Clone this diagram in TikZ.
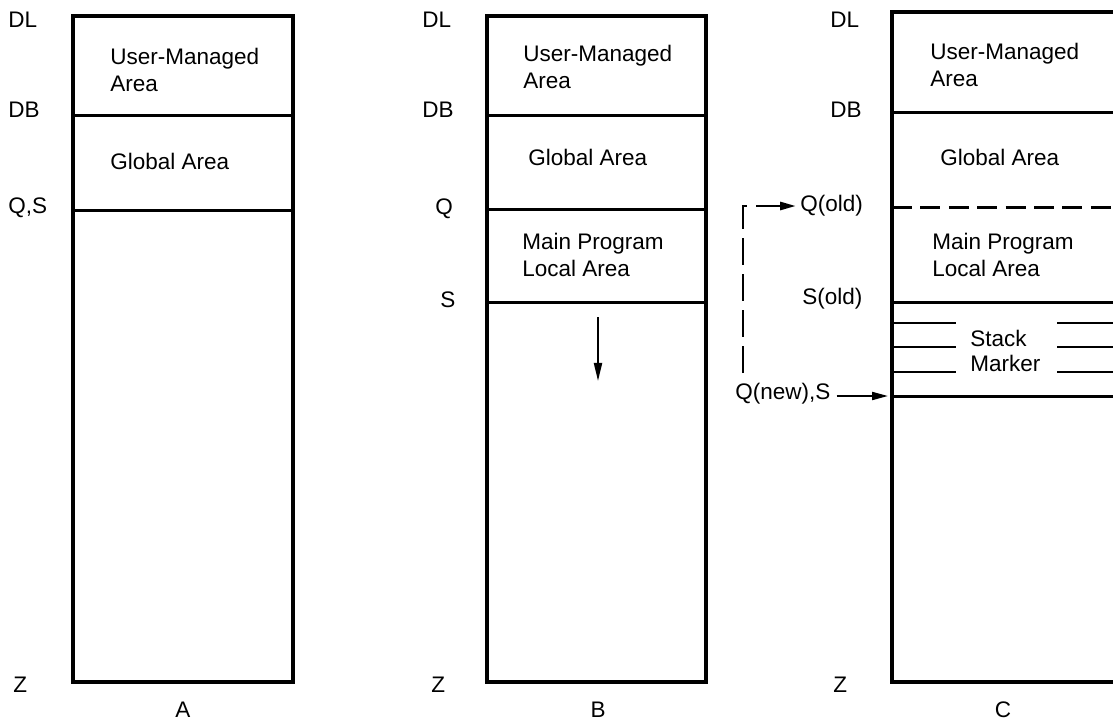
\documentclass[tikz,border=0pt]{standalone}
\usepackage{fontspec}
\setsansfont{Liberation Sans}
\usetikzlibrary{arrows.meta}
\begin{document}
\begin{tikzpicture}[x=0.025cm, y=-0.025cm,
     font=\sffamily\fontsize{16}{19}\selectfont,
     frame/.style={line width=1.1mm},
     divider/.style={line width=0.75mm},
     thin rule/.style={line width=0.5mm},
     area/.style={anchor=west, align=left, inner sep=0pt},
     tag/.style={anchor=west, inner sep=0pt},
     pointer/.style={line width=0.5mm, -{Triangle[length=4.5mm, width=2mm]}}]
\useasboundingbox (0,0) rectangle (1113,723);
% the three stacks
\foreach \col/\left/\right/\top/\mid/\dl/\zx in
    {A/73/293/16/183/8/13, B/487/706/16/598/422/431, C/892/1120/12/1003/830/833}{
    \draw[frame] (\left,\top) rectangle (\right,682);
    \node[inner sep=0pt] (cap\col) at (\mid,710) {\col};
    \node[tag] (dl\col) at (\dl,20) {DL};
    \node[tag] (db\col) at (\dl,110) {DB};
    \node[tag] (z\col) at (\zx,685) {Z};
}
% A
\draw[divider] (73,115) -- (293,115);
\draw[divider] (73,210) -- (293,210);
\node[tag] (qsA) at (8,208) {Q,S};
\node[area] (userA) at (110,70) {User-Managed\\Area};
\node[area] (globalA) at (110,161) {Global Area};
% B
\foreach \y in {115, 209, 302}
    \draw[divider] (487,\y) -- (706,\y);
\node[tag] (qB) at (435,209) {Q};
\node[tag] (sB) at (440,300) {S};
\node[area] (userB) at (523,67) {User-Managed\\Area};
\node[area] (globalB) at (528,157) {Global Area};
\node[area] (mainB) at (522,255) {Main Program\\Local Area};
\coordinate (growTop) at (598,317);
\coordinate (growEnd) at (598,381);
\draw[pointer] (growTop) -- (growEnd);
% C
\draw[divider] (892,112) -- (1113,112);
\draw[divider, dash pattern=on 5mm off 2.1mm] (892,207) -- (1113,207);
\draw[divider] (892,302) -- (1113,302);
\draw[divider] (892,396) -- (1113,396);
\foreach \y in {323, 347, 372}{
    \draw[thin rule] (892,\y) -- (956,\y);
    \draw[thin rule] (1057,\y) -- (1113,\y);
}
\node[area] (userC) at (930,65) {User-Managed\\Area};
\node[area] (globalC) at (940,157) {Global Area};
\node[area] (mainC) at (932,255) {Main Program\\Local Area};
\node[area] (stackC) at (970,338) {Stack};
\node[area] (markerC) at (970,363) {Marker};
\node[tag] (qold) at (800,206) {Q(old)};
\node[tag] (sold) at (802,299) {S(old)};
\node[tag] (qnew) at (735,394) {Q(new),S};
\coordinate (qnewEdge) at (888,396);
\coordinate (linkStart) at (743,373);
\draw[pointer, -{Triangle[length=4mm, width=2mm]}] (qnew.east) ++(6,2) -- (qnewEdge);
\draw[pointer, line width=0.7mm, dash pattern=on 6.75mm off 2.25mm,
      -{Triangle[length=4mm, width=2mm]}] (linkStart) |- ([xshift=-1mm]qold.west);
\end{tikzpicture}
\end{document}
